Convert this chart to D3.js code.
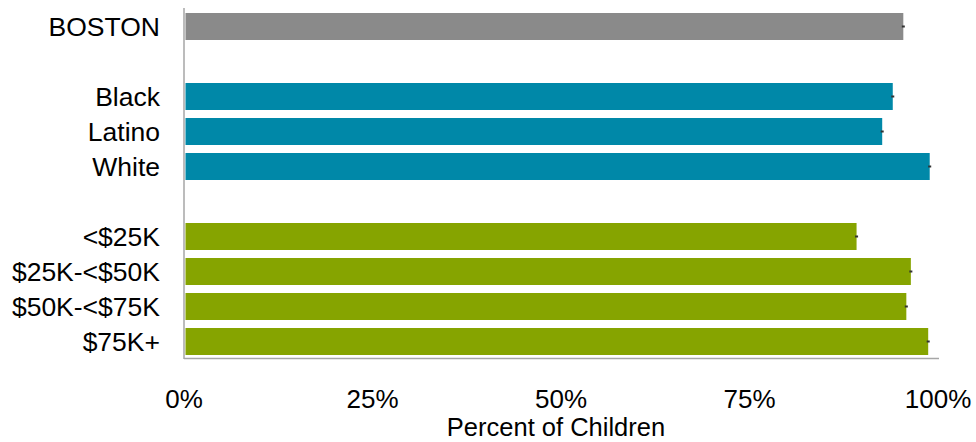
<!DOCTYPE html>
<html><head><meta charset="utf-8">
<script src="https://cdn.jsdelivr.net/npm/d3@7"></script>
<style>body{margin:0;background:#fff}svg{display:block}text{font-family:"Liberation Sans",Arial,sans-serif;fill:#000}</style>
</head><body><svg id="c" width="976" height="442"></svg>
<script>
const categories = ["BOSTON", "", "Black", "Latino", "White", " ", "<$25K", "$25K-<$50K", "$50K-<$75K", "$75K+"];
const groups = ["total", null, "race", "race", "race", null, "income", "income", "income", "income"];
const values = [95.4, null, 94.0, 92.6, 98.9, null, 89.2, 96.4, 95.8, 98.7];
const ciLow = [95.2, null, 93.8, 92.4, 98.7, null, 89.0, 96.2, 95.6, 98.5];
const ciHigh = [95.6, null, 94.2, 92.8, 99.1, null, 89.4, 96.6, 96.0, 98.9];
const xTicks = [0, 25, 50, 75, 100];
const xTitle = "Percent of Children";
const colors = {total: "#8a8a8a", race: "#0088a8", income: "#86a400"};

const svg = d3.select("#c");
const x = d3.scaleLinear().domain([0, 100]).range([184, 938]);
const y = d3.scaleBand().domain(categories).range([9, 359]).paddingInner(0.23).paddingOuter(0.115).round(false);
const yp = c => Math.round(y(c));

const rows = categories.map((c, i) => ({c, g: groups[i], v: values[i], lo: ciLow[i], hi: ciHigh[i]})).filter(d => d.v != null);

svg.selectAll("rect.bar").data(rows).join("rect")
  .attr("x", x(0) + 1.5).attr("y", d => yp(d.c))
  .attr("width", d => x(d.v) - x(0) - 1.5).attr("height", Math.round(y.bandwidth()))
  .attr("fill", d => colors[d.g]);

svg.selectAll("line.err").data(rows).join("line")
  .attr("x1", d => x(d.lo)).attr("x2", d => x(d.hi))
  .attr("y1", d => yp(d.c) + 13.5).attr("y2", d => yp(d.c) + 13.5)
  .attr("stroke", "#333").attr("stroke-width", 2);

// axes lines
svg.append("line").attr("x1", x(0)).attr("x2", x(0)).attr("y1", 8).attr("y2", 359)
  .attr("stroke", "#a6a6a6").attr("stroke-width", 1.5);
svg.append("line").attr("x1", x(0)).attr("x2", x(100) + 1).attr("y1", 358.5).attr("y2", 358.5)
  .attr("stroke", "#a6a6a6").attr("stroke-width", 1.5);

// category labels
svg.selectAll("text.cat").data(rows).join("text")
  .attr("x", 160).attr("y", d => yp(d.c) + 13.5)
  .attr("dy", "0.36em").attr("text-anchor", "end")
  .style("font-size", "26.5px").text(d => d.c);

// x tick labels
svg.selectAll("text.tick").data(xTicks).join("text")
  .attr("x", d => x(d)).attr("y", 408).attr("text-anchor", "middle")
  .style("font-size", "26px").text(d => d + "%");

svg.append("text").attr("x", 556).attr("y", 436).attr("text-anchor", "middle")
  .style("font-size", "25.5px").text(xTitle);
</script></body></html>
